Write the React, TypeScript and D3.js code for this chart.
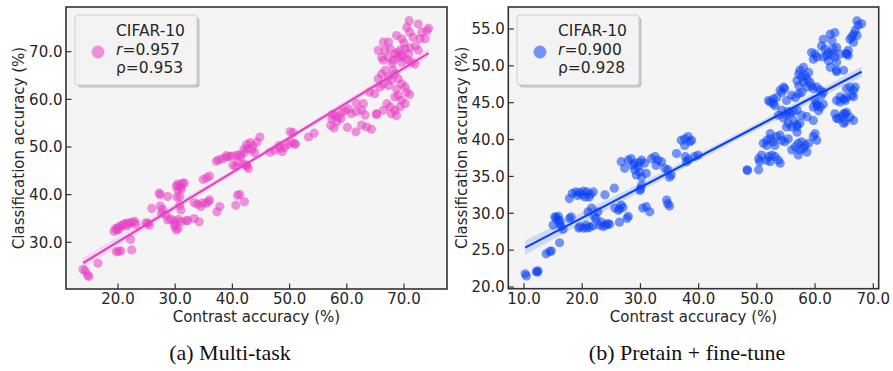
import React from "react";
import * as d3 from "d3";

// (contrast accuracy %, classification accuracy %) per run, multi-task training
const multiTaskPoints: [number, number][] = [
  [13.9, 24.3], [14.3, 24.0], [14.7, 23.1], [14.9, 22.8], [16.5, 25.6],
  [19.7, 28.0], [20.5, 28.2], [20.1, 28.1], [22.4, 28.4], [22.2, 30.6],
  [19.3, 32.3], [19.6, 32.9], [20.0, 33.1], [20.5, 33.5], [20.9, 33.7], [21.5, 33.4], [22.0, 33.9],
  [22.5, 34.2], [22.9, 34.4], [23.1, 33.8], [21.2, 33.9], [19.8, 32.6], [20.2, 32.7], [21.8, 34.1],
  [24.9, 34.1], [25.5, 33.6], [25.2, 34.0],
  [25.9, 37.1], [27.2, 40.3], [27.4, 40.0], [27.4, 37.6], [27.8, 36.9], [27.6, 36.1], [28.4, 35.7],
  [28.7, 39.6], [28.7, 34.7], [29.2, 34.9],
  [29.9, 33.3], [30.2, 32.6], [30.5, 32.9], [29.8, 34.5], [30.6, 34.8], [31.0, 34.3], [30.0, 33.8],
  [30.2, 41.7], [30.8, 42.0], [31.3, 42.4], [30.5, 41.0], [31.6, 42.4], [30.9, 41.5], [30.4, 42.2], [31.1, 41.2],
  [30.8, 39.6], [30.3, 39.5], [30.8, 37.8], [31.0, 36.8], [31.9, 34.5], [32.2, 34.6],
  [33.3, 38.3], [33.9, 38.0], [34.5, 37.5], [35.4, 38.2], [36.0, 38.9], [34.8, 38.3], [35.8, 38.5],
  [33.3, 35.0], [34.2, 34.3],
  [34.9, 43.2], [36.0, 43.9], [35.5, 43.5],
  [37.3, 36.4], [37.8, 37.5],
  [40.9, 39.9], [40.6, 37.8], [42.1, 38.5], [41.3, 40.0],
  [37.2, 47.0], [37.6, 47.3], [38.2, 47.5], [38.9, 47.8], [39.5, 48.0], [40.0, 48.1], [40.8, 48.3],
  [41.5, 47.9], [40.1, 46.2], [40.6, 45.9], [42.0, 46.4], [42.5, 46.0], [39.0, 48.2], [41.0, 46.8],
  [42.0, 49.5], [42.5, 50.5], [43.1, 50.9], [43.6, 50.2], [44.3, 51.0], [44.8, 52.1], [43.4, 49.4],
  [42.7, 49.7], [42.2, 48.9], [43.9, 48.8],
  [41.3, 48.3], [42.5, 46.2], [42.8, 45.5],
  [46.6, 48.9], [47.4, 49.3], [48.3, 49.7], [49.1, 49.9], [49.7, 50.5], [50.3, 51.0], [50.9, 50.7],
  [48.7, 49.0], [48.2, 50.3], [51.0, 50.6],
  [50.1, 53.2], [50.6, 53.0], [53.3, 52.1], [54.3, 52.9],
  [57.2, 54.5], [57.4, 55.9], [58.0, 56.6], [58.5, 56.3], [59.1, 57.3], [59.7, 57.6], [60.3, 58.0],
  [60.8, 57.0], [57.8, 54.0], [58.3, 55.3], [59.0, 56.0], [57.5, 56.8],
  [61.7, 59.1], [62.9, 59.1], [62.6, 57.7], [63.2, 56.7], [61.7, 57.4],
  [60.1, 54.1], [61.6, 53.2], [62.6, 54.6], [63.5, 54.2], [64.3, 53.7], [65.2, 56.8],
  [67.0, 59.1], [67.6, 58.4], [68.4, 60.5], [69.0, 60.8], [69.6, 59.8], [70.5, 61.5], [70.2, 59.1],
  [67.8, 57.0], [68.4, 57.7], [66.4, 57.7], [69.3, 58.4], [65.2, 57.0], [68.7, 56.6], [71.0, 61.0],
  [64.0, 61.5], [64.9, 61.2],
  [65.5, 64.3], [66.1, 65.3], [66.7, 66.1], [67.3, 64.7], [67.8, 64.0], [68.4, 65.3], [69.0, 64.3],
  [69.6, 63.2], [70.2, 62.6], [66.4, 63.2], [67.3, 62.9], [65.8, 62.6], [68.7, 62.2], [68.1, 66.1],
  [66.4, 72.0], [67.3, 72.0], [65.5, 70.3], [66.1, 68.8], [66.7, 70.3], [67.6, 70.6], [68.4, 69.5],
  [69.3, 70.3], [69.9, 68.8], [70.8, 69.5], [71.3, 67.8], [71.9, 67.4], [72.5, 70.3], [68.1, 68.2],
  [69.0, 68.8], [69.6, 67.8], [66.4, 68.2], [67.3, 68.8],
  [68.8, 69.8], [69.5, 69.2], [70.2, 70.6], [70.6, 68.3], [67.9, 67.5], [71.0, 70.8], [70.0, 71.8], [72.0, 71.2],
  [68.7, 73.4], [69.6, 72.7],
  [70.9, 76.5], [72.5, 75.8], [73.1, 74.1], [74.0, 74.4], [73.7, 72.7], [72.8, 72.7], [74.3, 74.9],
  [70.5, 75.1], [71.0, 74.1], [71.6, 73.0],
];

// (contrast accuracy %, classification accuracy %) per run, pretrain then fine-tune
const pretrainPoints: [number, number][] = [
  [10.2, 21.8], [10.4, 21.5], [12.1, 22.1], [12.4, 22.2], [12.3, 22.0],
  [13.8, 24.5], [14.4, 24.8], [14.7, 24.9], [16.1, 26.0],
  [15.3, 29.5], [15.8, 29.1], [15.0, 28.4], [16.4, 28.2], [16.7, 27.8], [16.1, 28.6], [15.5, 29.4],
  [15.9, 29.6], [16.2, 29.0],
  [17.8, 29.3], [18.1, 29.5],
  [17.8, 32.0], [18.3, 32.7], [18.9, 32.9], [19.5, 32.8], [20.2, 33.0], [20.8, 32.9], [21.4, 32.6],
  [21.9, 32.9], [20.5, 32.2], [19.2, 32.4], [21.2, 32.2], [20.0, 32.5],
  [19.6, 28.2], [20.2, 28.0], [20.7, 28.4], [21.3, 28.1], [21.9, 28.3], [19.4, 28.0], [20.8, 28.0],
  [21.0, 30.2], [21.6, 30.7], [22.1, 29.5], [22.4, 29.3], [22.7, 30.2],
  [23.0, 28.4], [23.6, 28.2], [24.1, 28.4], [24.7, 28.5], [23.3, 28.8], [24.4, 28.6],
  [23.9, 32.5], [25.5, 33.4],
  [25.6, 30.7], [26.2, 30.4], [26.7, 31.1], [27.0, 30.8], [26.4, 30.6], [26.4, 28.8], [27.7, 29.3], [27.9, 29.6],
  [26.7, 37.0], [27.3, 36.1], [27.9, 37.2], [28.4, 37.4], [29.0, 36.8], [29.6, 36.3], [30.2, 37.2],
  [30.7, 36.8], [29.0, 35.9], [29.9, 35.6], [29.3, 35.2], [31.0, 35.4], [30.2, 34.9], [28.7, 36.5], [29.8, 36.9],
  [29.9, 33.1], [30.2, 33.8], [30.0, 33.3],
  [30.4, 30.7], [31.0, 30.9], [31.6, 30.2],
  [31.9, 37.4], [32.5, 37.7], [33.0, 37.2], [32.7, 36.5], [33.6, 37.0], [34.2, 36.1],
  [34.7, 35.9], [35.3, 35.2], [35.0, 34.9],
  [34.5, 31.8], [35.0, 31.0], [34.7, 31.3],
  [36.2, 38.1], [37.0, 39.9], [37.6, 40.1], [38.2, 40.4], [38.5, 39.7], [37.6, 39.2], [39.3, 37.7],
  [39.9, 37.9], [37.9, 37.0], [38.2, 37.3], [37.7, 37.7], [38.8, 39.9],
  [48.3, 35.9], [48.4, 35.8], [50.3, 35.9], [50.5, 37.0], [50.3, 37.4], [51.7, 37.2], [52.0, 37.7],
  [52.6, 37.9], [53.1, 37.7], [52.3, 37.0], [54.0, 36.8], [50.8, 37.9], [53.7, 37.2],
  [51.1, 39.5], [51.7, 39.9], [52.3, 40.1], [52.8, 39.7], [53.4, 40.4], [54.0, 40.6], [54.3, 39.9],
  [54.8, 39.7], [52.3, 40.8], [55.4, 40.1], [51.7, 39.2], [53.1, 39.2],
  [56.0, 38.6], [56.6, 39.0], [57.1, 39.5], [57.7, 39.7], [58.3, 39.2], [57.4, 38.6], [58.6, 38.3],
  [57.1, 37.9], [58.0, 38.8], [58.9, 39.5],
  [59.7, 40.4], [60.0, 40.8], [60.3, 39.9],
  [54.6, 42.9], [55.1, 43.3], [55.7, 43.5], [56.3, 43.8], [56.9, 44.0], [55.4, 42.2], [56.0, 41.7],
  [56.9, 42.0], [57.4, 42.2], [55.1, 41.7], [56.9, 41.0], [57.7, 43.3], [58.6, 43.1],
  [59.7, 42.6], [59.7, 44.4], [60.3, 44.9], [60.0, 45.3],
  [63.7, 42.9], [64.0, 42.8], [64.6, 43.1], [65.2, 43.5], [65.2, 42.4], [64.9, 42.2], [66.0, 43.0], [66.6, 42.6],
  [64.3, 45.1], [65.2, 45.3],
  [67.2, 56.1], [67.4, 55.5], [68.0, 55.7], [66.9, 54.8], [66.6, 54.3], [66.3, 53.9], [67.2, 54.1],
  [66.6, 53.2], [66.0, 53.6],
  [62.6, 54.3], [63.4, 54.5], [62.9, 53.4], [61.4, 53.6], [61.1, 52.7], [61.7, 52.3], [63.1, 52.3],
  [63.7, 52.5], [62.3, 51.8], [62.9, 51.6], [64.3, 51.6], [63.4, 51.2],
  [59.4, 51.8], [60.0, 51.6], [59.7, 50.9], [60.3, 51.2], [61.4, 51.2], [62.0, 51.4],
  [62.3, 50.7], [62.6, 49.8], [63.7, 49.4], [63.7, 50.5], [65.4, 51.6], [65.7, 51.4],
  [57.4, 49.4], [58.0, 49.8], [57.2, 48.9], [57.7, 48.5], [58.3, 48.7], [58.6, 48.2], [58.9, 49.1],
  [56.9, 48.0], [58.0, 47.8], [59.1, 47.8], [57.2, 47.3], [58.6, 47.1], [59.4, 47.3], [59.7, 46.9],
  [60.3, 47.1], [60.9, 46.7], [61.1, 46.0], [61.4, 46.4],
  [54.6, 47.1], [54.3, 46.4], [53.4, 45.7], [52.8, 45.5], [52.3, 45.1], [53.1, 44.6],
  [56.0, 46.0], [56.6, 45.7], [57.2, 46.2], [57.7, 46.4],
  [60.3, 44.6], [60.9, 44.4], [60.6, 43.9], [61.4, 44.8],
  [65.4, 46.9], [66.0, 47.1], [66.6, 46.7], [66.9, 47.1], [66.3, 46.0], [65.4, 45.7], [64.9, 45.5], [66.6, 45.8],
  [64.9, 43.5], [65.4, 43.7], [63.4, 43.5],
  [63.7, 45.3], [64.3, 45.8],
  [63.7, 49.2], [64.9, 49.4], [65.4, 51.7], [65.7, 52.1],
  [52.0, 45.3], [52.8, 44.9], [54.0, 46.7], [54.8, 46.9], [55.1, 45.3], [54.3, 44.0], [53.7, 43.3],
  [55.4, 43.8], [56.3, 42.6], [56.9, 41.7],
];

const xTicksA = [20, 30, 40, 50, 60, 70];
const yTicksA = [30, 40, 50, 60, 70];
const xTicksB = [10, 20, 30, 40, 50, 60, 70];
const yTicksB = [20, 25, 30, 35, 40, 45, 50, 55];

const legendTitle = "CIFAR-10";
const pearsonA = "0.957";
const spearmanA = "0.953";
const pearsonB = "0.900";
const spearmanB = "0.928";

const captionA = "(a) Multi-task";
const captionB = "(b) Pretain + fine-tune";
const xLabel = "Contrast accuracy (%)";
const yLabel = "Classification accuracy (%)";

const SANS = "'DejaVu Sans', sans-serif";
const SERIF = "'Liberation Serif', 'Times New Roman', serif";
const INK = "#262626";

type PanelSpec = {
  points: [number, number][];
  xDomain: [number, number];
  yDomain: [number, number];
  left: number;
  right: number;
  top: number;
  bottom: number;
  xTicks: number[];
  yTicks: number[];
  color: string;
  pointOpacity: number;
  pearson: string;
  spearman: string;
  yLabelX: number;
  legendX: number;
};

function linearFit(points: [number, number][]) {
  const n = points.length;
  const mx = d3.mean(points, (p) => p[0]) as number;
  const my = d3.mean(points, (p) => p[1]) as number;
  let sxx = 0;
  let sxy = 0;
  for (const [x, y] of points) {
    sxx += (x - mx) * (x - mx);
    sxy += (x - mx) * (y - my);
  }
  const slope = sxy / sxx;
  const intercept = my - slope * mx;
  let sse = 0;
  for (const [x, y] of points) {
    const r = y - (intercept + slope * x);
    sse += r * r;
  }
  const s2 = sse / (n - 2);
  const predict = (x: number) => intercept + slope * x;
  const halfWidth = (x: number) => 1.97 * Math.sqrt(s2 * (1 / n + ((x - mx) * (x - mx)) / sxx));
  return { predict, halfWidth };
}

function Panel({ spec }: { spec: PanelSpec }) {
  const x = d3.scaleLinear().domain(spec.xDomain).range([spec.left, spec.right]);
  const y = d3.scaleLinear().domain(spec.yDomain).range([spec.bottom, spec.top]);
  const fmt = d3.format(".1f");
  const { predict, halfWidth } = linearFit(spec.points);
  const [xMin, xMax] = d3.extent(spec.points, (p) => p[0]) as [number, number];
  const xs = d3.range(0, 61).map((i) => xMin + ((xMax - xMin) * i) / 60);
  const band = d3
    .area<number>()
    .x((v) => x(v))
    .y0((v) => y(predict(v) - halfWidth(v)))
    .y1((v) => y(predict(v) + halfWidth(v)))(xs);
  const line = d3
    .line<number>()
    .x((v) => x(v))
    .y((v) => y(predict(v)))([xMin, xMax]);

  const midY = (spec.top + spec.bottom) / 2;
  const midX = (spec.left + spec.right) / 2;
  const lx = spec.legendX;
  const ly = 15;
  const lw = 122;
  const lh = 70;

  return (
    <g>
      <rect
        x={spec.left}
        y={spec.top}
        width={spec.right - spec.left}
        height={spec.bottom - spec.top}
        fill="#f4f4f4"
      />
      <path d={band ?? ""} fill={spec.color} fillOpacity={0.15} />
      <g>
        {spec.points.map((p, i) => (
          <circle
            key={i}
            cx={x(p[0])}
            cy={y(p[1])}
            r={4.6}
            fill={spec.color}
            fillOpacity={spec.pointOpacity}
          />
        ))}
      </g>
      <path d={line ?? ""} stroke={spec.color} strokeWidth={2.2} fill="none" />
      <rect
        x={spec.left}
        y={spec.top}
        width={spec.right - spec.left}
        height={spec.bottom - spec.top}
        fill="none"
        stroke="#333"
        strokeWidth={1.6}
      />
      {spec.xTicks.map((t) => (
        <g key={`x${t}`}>
          <line x1={x(t)} x2={x(t)} y1={spec.bottom} y2={spec.bottom - 5.5} stroke="#333" strokeWidth={1.2} />
          <text
            x={x(t)}
            y={spec.bottom + 15}
            textAnchor="middle"
            fontFamily={SANS}
            fontSize={15}
            fill={INK}
          >
            {fmt(t)}
          </text>
        </g>
      ))}
      {spec.yTicks.map((t) => (
        <g key={`y${t}`}>
          <line x1={spec.left} x2={spec.left + 5.5} y1={y(t)} y2={y(t)} stroke="#333" strokeWidth={1.2} />
          <text
            x={spec.left - 3.5}
            y={y(t)}
            dy="0.35em"
            textAnchor="end"
            fontFamily={SANS}
            fontSize={15}
            fill={INK}
          >
            {fmt(t)}
          </text>
        </g>
      ))}
      <text
        x={midX}
        y={spec.bottom + 33}
        textAnchor="middle"
        fontFamily={SANS}
        fontSize={15}
        fill={INK}
      >
        {xLabel}
      </text>
      <text
        transform={`translate(${spec.yLabelX},${midY}) rotate(-90)`}
        textAnchor="middle"
        dy="0.35em"
        fontFamily={SANS}
        fontSize={15}
        fill={INK}
      >
        {yLabel}
      </text>
      {/* legend */}
      <rect x={lx + 2.5} y={ly + 2.5} width={lw} height={lh} rx={3} fill="#9a9a9a" fillOpacity={0.55} />
      <rect x={lx} y={ly} width={lw} height={lh} rx={3} fill="#f3f3f3" stroke="#cfcfcf" strokeWidth={1} />
      <circle cx={lx + 23} cy={ly + 37} r={6.4} fill={spec.color} fillOpacity={spec.pointOpacity} />
      <g fontFamily={SANS} fontSize={15.5} fill={INK}>
        <text x={lx + 41} y={ly + 21}>{legendTitle}</text>
        <text x={lx + 41} y={ly + 39.5}>
          <tspan fontStyle="italic">r</tspan>
          <tspan>={spec.pearson}</tspan>
        </text>
        <text x={lx + 41} y={ly + 58}>ρ={spec.spearman}</text>
      </g>
    </g>
  );
}

export default function App() {
  const panelA: PanelSpec = {
    points: multiTaskPoints,
    xDomain: [10.91, 77.52],
    yDomain: [20.2, 79.38],
    left: 66,
    right: 447,
    top: 7,
    bottom: 289,
    xTicks: xTicksA,
    yTicks: yTicksA,
    color: "#e83fc5",
    pointOpacity: 0.55,
    pearson: pearsonA,
    spearman: spearmanA,
    yLabelX: 18.5,
    legendX: 75,
  };
  const panelB: PanelSpec = {
    points: pretrainPoints,
    xDomain: [7.3, 70.93],
    yDomain: [19.77, 57.98],
    left: 508.3,
    right: 878.7,
    top: 7,
    bottom: 288.7,
    xTicks: xTicksB,
    yTicks: yTicksB,
    color: "#0a42f5",
    pointOpacity: 0.55,
    pearson: pearsonB,
    spearman: spearmanB,
    yLabelX: 461.5,
    legendX: 517,
  };
  return (
    <div style={{ position: "absolute", left: 0, top: 0 }}>
      <svg width={893} height={371} viewBox="0 0 893 371" style={{ display: "block", background: "#fff" }}>
        <Panel spec={panelA} />
        <Panel spec={panelB} />
        <text x={230} y={360} textAnchor="middle" fontFamily={SERIF} fontSize={22} fill="#111">
          {captionA}
        </text>
        <text x={687} y={360} textAnchor="middle" fontFamily={SERIF} fontSize={22} fill="#111">
          {captionB}
        </text>
      </svg>
    </div>
  );
}
